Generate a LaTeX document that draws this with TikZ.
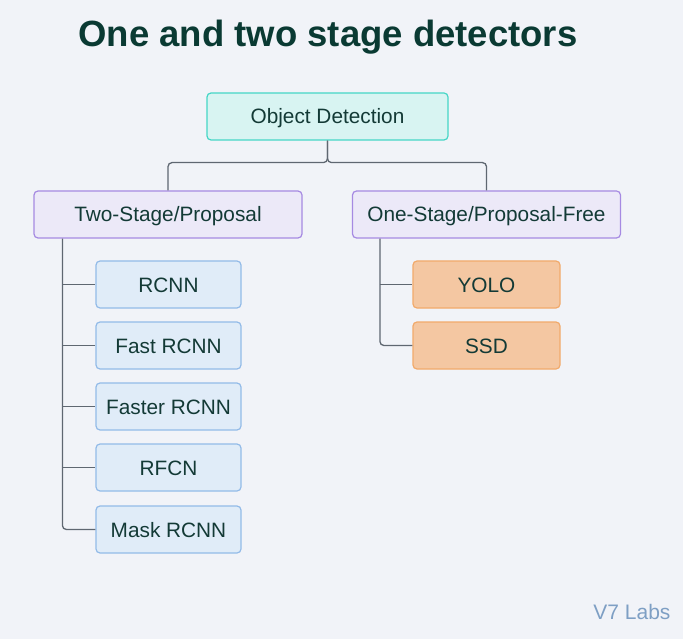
\documentclass[tikz,border=0pt]{standalone}
\usepackage{fontspec}
\setmainfont{Liberation Sans}
\definecolor{bgc}{HTML}{F1F3F8}
\definecolor{titlec}{HTML}{0A3A33}
\definecolor{txtc}{HTML}{133A36}
\definecolor{odfill}{HTML}{D8F4F2}
\definecolor{oddraw}{HTML}{45D6C6}
\definecolor{pfill}{HTML}{ECE9F8}
\definecolor{pdraw}{HTML}{A68AE2}
\definecolor{bfill}{HTML}{E0ECF8}
\definecolor{bdraw}{HTML}{93BBE8}
\definecolor{ofill}{HTML}{F4C7A2}
\definecolor{odraw}{HTML}{F1AA6B}
\definecolor{linec}{HTML}{5F6771}
\definecolor{v7c}{HTML}{7E9FC4}
\begin{document}
\begin{tikzpicture}[x=1pt,y=-1pt,
  box/.style={draw, rounded corners=4pt, line width=1.2pt, text=txtc,
    font=\fontsize{20.8}{24}\selectfont, inner sep=0pt, minimum height=47pt,
    text height=15pt, text depth=0pt},
  odbox/.style={box, fill=odfill, draw=oddraw, minimum width=241pt},
  pbox/.style={box, fill=pfill, draw=pdraw, minimum width=268pt},
  bbox/.style={box, fill=bfill, draw=bdraw, minimum width=145pt},
  obox/.style={box, fill=ofill, draw=odraw, minimum width=147pt},
  conn/.style={draw=linec, line width=1.3pt, rounded corners=4pt}]
\fill[bgc] (0,0) rectangle (683,639);
\useasboundingbox (0,0) rectangle (683,639);
\node[font=\fontsize{36.5}{40}\selectfont\bfseries, text=titlec] (title) at (328,37) {One and two stage detectors};
\node[odbox] (od) at (327.5,116.5) {Object Detection};
\node[pbox] (two) at (168,214.5) {Two-Stage/Proposal};
\node[pbox] (one) at (486.5,214.5) {One-Stage/Proposal-Free};
\node[bbox] (rcnn) at (168.5,284.5) {RCNN};
\node[bbox] (fast) at (168.5,345.5) {Fast RCNN};
\node[bbox] (faster) at (168.5,406.5) {Faster RCNN};
\node[bbox] (rfcn) at (168.5,467.5) {RFCN};
\node[bbox] (mask) at (168.5,529.5) {Mask RCNN};
\node[obox] (yolo) at (486.5,284.5) {YOLO};
\node[obox] (ssd) at (486.5,345.5) {SSD};
\node[font=\fontsize{21}{24}\selectfont, text=v7c, anchor=east] (v7) at (674,612) {V7 Labs};
\draw[conn] (od.south) -- ++(0,22) -| (two.north);
\draw[conn] (od.south) -- ++(0,22) -| (one.north);
\coordinate (lt) at ([xshift=29pt]two.south west);
\coordinate (rt) at ([xshift=28pt]one.south west);
\draw[conn] (lt) |- (mask.west);
\foreach \n in {rcnn,fast,faster,rfcn}{\draw[conn] (lt |- \n.west) -- (\n.west);}
\draw[conn] (rt) |- (ssd.west);
\draw[conn] (rt |- yolo.west) -- (yolo.west);
\end{tikzpicture}
\end{document}
